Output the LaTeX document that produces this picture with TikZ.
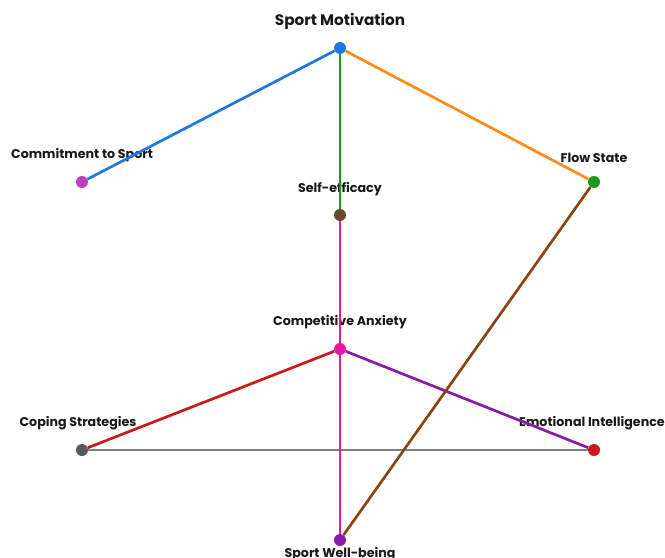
\documentclass[tikz,border=0pt]{standalone}
\usepackage{fontspec}
\setmainfont{Poppins}
\definecolor{cblue}{HTML}{1F78E0}
\definecolor{corange}{HTML}{FF8C1A}
\definecolor{cgreen}{HTML}{1A9A1A}
\definecolor{cpink}{HTML}{E8199E}
\definecolor{cred}{HTML}{CC1A1A}
\definecolor{cpurple}{HTML}{8A1AAA}
\definecolor{cgray}{HTML}{808080}
\definecolor{cbrown}{HTML}{8B4513}
\definecolor{cmagenta}{HTML}{C03CC0}
\definecolor{cdark}{HTML}{555A60}
\definecolor{colive}{HTML}{6B4A2A}

\begin{document}
\begin{tikzpicture}[x=0.03cm,y=-0.03cm,
    dot/.style={circle,inner sep=0pt,minimum size=0.36cm,fill=#1},
    lbl/.style={font=\bfseries\fontsize{10.8}{13}\selectfont,text=black!90,inner sep=1pt,label distance=0.36cm},
    bigl/.style={lbl,font=\bfseries\fontsize{13}{15}\selectfont},
    link/.style={line width=2.3pt,draw=#1}]
\useasboundingbox (0,0) rectangle (665,558);
% factors
\node [dot=cblue,label={[bigl,label distance=0.33cm]above:Sport Motivation}] (motiv) at (340,48) {};
\node [dot=cmagenta,label={[lbl]above:Commitment to Sport}] (commit) at (82,182) {};
\node [dot=cgreen,label={[lbl]above:Flow State}] (flow) at (594,182) {};
\node [dot=colive,label={[lbl]above:Self-efficacy}] (selfeff) at (340,215) {};
\node [dot=cpink,label={[lbl]above:Competitive Anxiety}] (anxiety) at (340,349) {};
\node [dot=cdark,label={[lbl,xshift=-0.12cm]above:Coping Strategies}] (coping) at (82,450) {};
\node [dot=cred,label={[lbl,xshift=-0.06cm]above:Emotional Intelligence}] (emotion) at (594,450) {};
\node [dot=cpurple,label={[lbl,label distance=0pt]below:Sport Well-being}] (wellbeing) at (340,540) {};
% links
\draw [link=cblue] (motiv) -- (commit);
\draw [link=corange] (motiv) -- (flow);
\draw [link=cgreen] (motiv) -- (selfeff);
\draw [link=cpink] (selfeff) -- (anxiety);
\draw [link=cred] (anxiety) -- (coping);
\draw [link=cpurple] (anxiety) -- (emotion);
\draw [link=cgray] (coping) -- (emotion);
\draw [link=cpink] (anxiety) -- (wellbeing);
\draw [link=cbrown] (flow) -- (wellbeing);
\end{tikzpicture}
\end{document}
